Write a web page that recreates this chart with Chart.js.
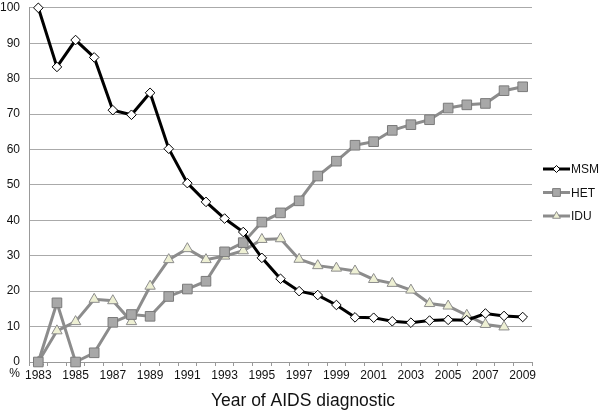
<!DOCTYPE html>
<html>
<head>
<meta charset="utf-8">
<script src="https://cdn.jsdelivr.net/npm/chart.js@4.4.1/dist/chart.umd.min.js"></script>
<style>
  html, body { margin: 0; padding: 0; background: #fff; }
  #wrap { width: 600px; height: 410px; }
</style>
</head>
<body>
<div id="wrap"><canvas id="chart" width="600" height="410"></canvas></div>
<script>
const years = [];
for (let y = 1983; y <= 2009; y++) years.push(String(y));

const msm = [100, 83.3, 90.9, 86.0, 71.1, 69.8, 76.0, 60.2, 50.5, 45.2, 40.5, 36.7, 29.4, 23.5,
  20.0, 18.9, 16.1, 12.6, 12.5, 11.5, 11.1, 11.7, 11.9, 11.8, 13.7, 13.0, 12.7];
const het = [0, 16.7, 0, 2.6, 11.2, 13.4, 12.9, 18.5, 20.6, 22.8, 31.1, 33.7, 39.5, 42.1,
  45.5, 52.5, 56.7, 61.2, 62.2, 65.4, 67.0, 68.4, 71.7, 72.6, 73.0, 76.6, 77.7];
const idu = [0, 8.8, 11.4, 17.7, 17.3, 11.4, 21.4, 28.9, 32.0, 28.9, 29.9, 31.4, 34.6, 34.8,
  29.0, 27.2, 26.5, 25.7, 23.3, 22.2, 20.3, 16.5, 15.8, 13.2, 10.6, 9.9, null];

const FONT = 'Liberation Sans, Arial, sans-serif';
const TEXT = '#111';

// leyenda a la derecha (línea + marcador), "%" y título del eje
const extras = {
  id: 'extras',
  afterDraw(chart) {
    const ctx = chart.ctx;
    const area = chart.chartArea;
    ctx.save();

    // leyenda
    const radii = [3.5, 5.5, 4.5];
    chart.data.datasets.forEach((ds, i) => {
      const y = 169 + i * 23.5;
      const x0 = area.right + 11;
      ctx.strokeStyle = ds.borderColor;
      ctx.lineWidth = 3;
      ctx.beginPath(); ctx.moveTo(x0, y); ctx.lineTo(x0 + 27, y); ctx.stroke();
      ctx.fillStyle = ds.pointBackgroundColor;
      ctx.strokeStyle = ds.pointBorderColor;
      ctx.lineWidth = 1;
      Chart.helpers.drawPoint(ctx, { pointStyle: ds.pointStyle, radius: radii[i], borderWidth: 1 }, x0 + 13.5, y);
      ctx.fillStyle = TEXT;
      ctx.font = '12px ' + FONT;
      ctx.textAlign = 'left';
      ctx.textBaseline = 'middle';
      ctx.fillText(ds.label, x0 + 28, y + 1);
    });

    // "%" en la esquina
    ctx.font = '12px ' + FONT;
    ctx.textAlign = 'right';
    ctx.textBaseline = 'middle';
    ctx.fillText('%', area.left - 9, chart.scales.x.top + 12);

    // título del eje x
    ctx.font = '17.5px ' + FONT;
    ctx.textAlign = 'center';
    ctx.textBaseline = 'alphabetic';
    ctx.fillText('Year of AIDS diagnostic', 303, 406);

    ctx.restore();
  }
};

const ctx = document.getElementById('chart').getContext('2d');
new Chart(ctx, {
  type: 'line',
  data: {
    labels: years,
    datasets: [
      {
        label: 'MSM', data: msm,
        borderColor: '#000', borderWidth: 3,
        pointStyle: 'rectRot', pointRadius: 4.8,
        pointBackgroundColor: '#fff', pointBorderColor: '#000', pointBorderWidth: 1,
        clip: 10
      },
      {
        label: 'HET', data: het,
        borderColor: '#8c8c8c', borderWidth: 3,
        pointStyle: 'rect', pointRadius: 6.8,
        pointBackgroundColor: '#a8a8a8', pointBorderColor: '#7a7a7a', pointBorderWidth: 1,
        clip: 10
      },
      {
        label: 'IDU', data: idu,
        borderColor: '#8c8c8c', borderWidth: 3,
        pointStyle: 'triangle', pointRadius: 6,
        pointBackgroundColor: '#eef0d4', pointBorderColor: '#8c8c8c', pointBorderWidth: 1,
        clip: 10
      }
    ]
  },
  options: {
    responsive: false,
    animation: false,
    layout: { padding: { top: 0, right: 68, left: 0, bottom: 21 } },
    plugins: {
      tooltip: { enabled: false },
      legend: { display: false }
    },
    scales: {
      x: {
        offset: true,
        grid: { offset: true, drawOnChartArea: false, drawTicks: true, tickLength: 4, color: '#999' },
        border: { color: '#999' },
        ticks: {
          autoSkip: false, maxRotation: 0, padding: 2,
          color: TEXT, font: { family: FONT, size: 12 },
          callback: function (v, i) { return i % 2 === 0 ? this.getLabelForValue(v) : ''; }
        },
        afterFit(s) { s.height = 27; }
      },
      y: {
        min: 0, max: 100,
        grid: { color: '#aaa', drawTicks: false },
        border: { color: '#999' },
        ticks: { stepSize: 10, padding: 9, color: TEXT, font: { family: FONT, size: 12 } },
        afterFit(s) { s.width = 29; s.paddingTop = 7; s.paddingBottom = 0; }
      }
    }
  },
  plugins: [extras]
});
</script>
</body>
</html>
